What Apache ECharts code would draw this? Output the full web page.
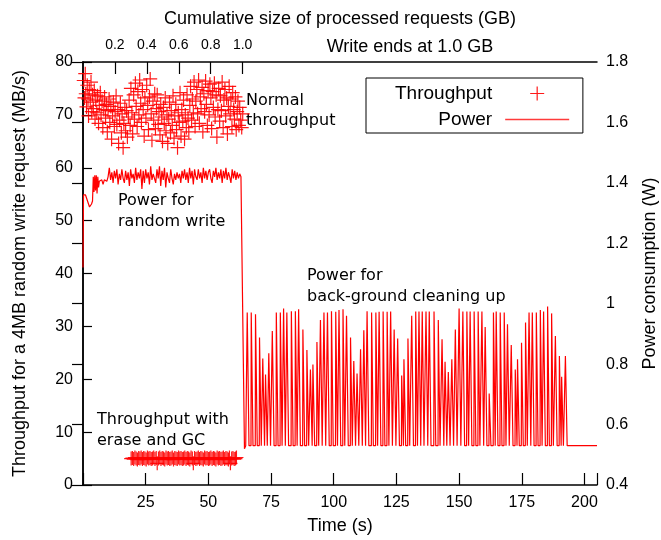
<!DOCTYPE html>
<html>
<head>
<meta charset="utf-8">
<script src="https://cdn.jsdelivr.net/npm/echarts@6/dist/echarts.min.js"></script>
<style>
html,body{margin:0;padding:0;background:#fff;}
#chart{width:661px;height:540px;}
</style>
</head>
<body>
<div id="chart"></div>
<script>
// ---------- data ----------
const xTimeTicks = [25, 50, 75, 100, 125, 150, 175, 200];
const gbTicks = [0.2, 0.4, 0.6, 0.8, 1.0];

// normal throughput (time s, MB/s)
const normalThroughput = [[0.3,76.5],[0.6,73.2],[0.9,77.8],[1.1,74.0],[1.4,71.5],[1.7,75.6],[2.0,73.0],[2.2,69.8],[2.5,74.8],[2.9,72.4],[3.2,76.2],[3.5,70.6],[3.8,73.8],[4.1,71.2],[4.5,74.6],[4.8,69.2],[5.1,72.8],[5.5,70.4],[5.8,73.6],[6.2,68.4],[6.5,71.8],[6.9,74.2],[7.2,70.0],[7.6,72.6],[7.9,67.6],[8.3,71.0],[8.6,73.4],[9.0,69.4],[9.3,72.0],[9.7,66.8],[10.0,70.8],[10.4,73.0],[10.7,68.6],[11.1,71.6],[11.4,65.4],[11.8,69.8],[12.1,72.4],[12.5,67.8],[12.8,70.6],[13.2,73.6],[13.5,68.2],[13.9,71.0],[14.2,64.6],[14.6,69.0],[14.9,72.2],[15.3,66.6],[15.6,70.2],[16.0,63.8],[16.3,68.4],[16.7,71.4],[17.0,67.0],[17.4,70.8],[17.7,65.8],[18.1,69.6],[18.4,72.8],[18.8,68.0],[19.1,75.0],[19.5,70.4],[19.8,66.4],[20.2,73.8],[20.5,69.2],[20.9,76.0],[21.2,71.6],[21.6,67.8],[21.9,74.4],[22.3,70.0],[22.6,76.6],[23.0,72.2],[23.3,68.6],[23.7,74.8],[24.0,71.0],[24.4,66.0],[24.7,73.2],[25.1,69.4],[25.4,75.6],[25.8,71.8],[26.1,67.2],[26.5,73.4],[26.8,76.8],[27.2,70.2],[27.5,65.2],[27.9,72.6],[28.2,69.0],[28.6,74.0],[28.9,67.4],[29.3,71.2],[29.6,73.8],[30.0,68.2],[30.3,70.6],[30.7,66.2],[31.0,72.0],[31.4,69.6],[31.7,65.0],[32.1,71.4],[32.4,68.4],[32.8,73.2],[33.1,67.0],[33.5,70.0],[33.8,64.6],[34.2,69.2],[34.5,72.4],[34.9,66.6],[35.2,70.8],[35.6,68.0],[35.9,73.6],[36.3,65.6],[36.6,69.8],[37.0,72.0],[37.3,67.2],[37.7,63.8],[38.0,70.4],[38.4,68.6],[38.7,74.2],[39.1,66.0],[39.4,71.0],[39.8,68.8],[40.1,72.8],[40.5,65.4],[40.8,70.0],[41.2,67.6],[41.5,73.8],[41.9,69.4],[42.2,66.8],[42.6,71.8],[42.9,75.4],[43.3,69.0],[43.6,73.0],[44.0,70.4],[44.3,76.2],[44.7,67.8],[45.0,72.6],[45.4,74.8],[45.7,70.2],[46.1,76.6],[46.4,68.4],[46.8,73.4],[47.1,71.2],[47.5,75.2],[47.8,66.8],[48.2,74.0],[48.5,70.6],[48.9,76.4],[49.2,72.0],[49.6,68.0],[49.9,74.6],[50.3,70.0],[50.6,75.8],[51.0,73.2],[51.3,67.4],[51.7,74.4],[52.0,71.4],[52.4,76.0],[52.7,69.6],[53.1,73.8],[53.4,65.8],[53.8,71.0],[54.1,75.0],[54.5,68.8],[54.8,73.6],[55.2,70.8],[55.5,76.2],[55.9,67.6],[56.2,72.8],[56.6,74.8],[56.9,69.8],[57.3,73.2],[57.6,66.4],[58.0,71.6],[58.3,75.4],[58.7,70.2],[59.0,73.0],[59.4,67.8],[59.7,74.2],[60.1,71.0],[60.4,69.2],[60.8,73.4],[61.1,67.2],[61.5,70.6],[61.8,72.6],[62.2,68.0],[62.5,71.4],[62.9,69.0],[63.3,67.6],[63.7,70.2]];

// throughput with erase and GC (time s, MB/s)
const gcThroughput = [[19.2,5.0],[19.7,5.1],[20.2,4.9],[20.7,5.2],[21.2,5.0],[21.7,4.8],[22.2,5.1],[22.7,5.0],[23.2,5.2],[23.7,4.9],[24.2,5.1],[24.7,5.0],[25.2,4.8],[25.7,5.2],[26.2,5.0],[26.7,5.1],[27.2,4.9],[27.7,5.0],[28.2,5.2],[28.7,4.9],[29.2,5.1],[29.6,4.1],[30.1,5.0],[30.6,5.2],[31.1,4.9],[31.6,5.1],[32.1,5.0],[32.6,4.8],[33.1,5.2],[33.6,5.0],[34.1,5.1],[34.6,4.9],[35.1,5.0],[35.6,5.2],[36.1,4.8],[36.6,5.1],[37.1,5.0],[37.6,4.9],[38.1,5.2],[38.6,5.0],[39.1,5.1],[39.6,4.9],[40.1,5.0],[40.6,5.2],[41.1,4.9],[41.6,5.1],[42.1,5.0],[42.6,4.8],[43.1,5.2],[43.6,5.0],[44.0,4.1],[44.5,5.1],[45.0,4.9],[45.5,5.0],[46.0,5.2],[46.5,4.9],[47.0,5.1],[47.5,5.0],[48.0,4.8],[48.5,5.2],[49.0,5.0],[49.5,5.1],[50.0,4.9],[50.5,5.0],[51.0,5.2],[51.5,4.9],[52.0,5.1],[52.5,5.0],[53.0,4.8],[53.5,5.2],[54.0,5.0],[54.5,5.1],[55.0,4.9],[55.5,5.0],[56.0,5.2],[56.5,4.9],[57.0,5.1],[57.5,5.0],[58.0,4.8],[58.4,5.2],[58.8,4.1],[59.3,5.0],[59.8,5.1],[60.3,4.9],[60.8,5.0],[61.2,5.2]];

// power during random write (time s, W)
const powerWrite = [[0,1.12],[0.2,1.36],[0.6,1.355],[1.0,1.36],[1.4,1.35],[1.8,1.345],[2.2,1.33],[2.6,1.32],[3.0,1.325],[3.4,1.33],[3.8,1.34],[4.1,1.42],[4.4,1.37],[4.7,1.425],[5.0,1.375],[5.3,1.425],[5.6,1.365],[5.9,1.42],[6.2,1.385],[6.5,1.405],[7.0,1.40],[7.5,1.41],[8.0,1.395],[8.5,1.41],[9.0,1.415],[9.5,1.405],
[10.0,1.42],[10.5,1.45],[11.0,1.41],[11.5,1.435],[12.0,1.40],[12.5,1.44],[13.0,1.415],[13.5,1.445],[14.0,1.395],[14.5,1.43],
[15.0,1.41],[15.5,1.445],[16.0,1.415],[16.5,1.40],[17.0,1.44],[17.5,1.41],[18.0,1.435],[18.5,1.39],[19.0,1.445],[19.5,1.415],
[20.0,1.43],[20.5,1.40],[21.0,1.45],[21.5,1.41],[22.0,1.435],[22.5,1.415],[23.0,1.445],[23.5,1.38],[24.0,1.44],[24.5,1.40],
[25.0,1.445],[25.5,1.415],[26.0,1.435],[26.5,1.395],[27.0,1.455],[27.5,1.41],[28.0,1.43],[28.5,1.435],[29.0,1.40],[29.5,1.445],
[30.0,1.415],[30.5,1.455],[31.0,1.39],[31.5,1.44],[32.0,1.41],[32.5,1.45],[33.0,1.385],[33.5,1.435],[34.0,1.415],[34.5,1.40],
[35.0,1.445],[35.5,1.415],[36.0,1.395],[36.5,1.43],[37.0,1.41],[37.5,1.435],[38.0,1.415],[38.5,1.43],[39.0,1.40],[39.5,1.44],
[40.0,1.415],[40.5,1.445],[41.0,1.41],[41.5,1.435],[42.0,1.40],[42.5,1.45],[43.0,1.415],[43.5,1.44],[44.0,1.395],[44.5,1.445],
[45.0,1.42],[45.5,1.41],[46.0,1.445],[46.5,1.415],[47.0,1.435],[47.5,1.40],[48.0,1.45],[48.5,1.415],[49.0,1.44],[49.5,1.41],
[50.0,1.435],[50.5,1.445],[51.0,1.415],[51.5,1.40],[52.0,1.44],[52.5,1.42],[53.0,1.45],[53.5,1.41],[54.0,1.435],[54.5,1.415],
[55.0,1.445],[55.5,1.40],[56.0,1.44],[56.5,1.415],[57.0,1.45],[57.5,1.41],[58.0,1.435],[58.5,1.42],[59.0,1.40],[59.5,1.445],
[60.0,1.415],[60.5,1.44],[61.0,1.41],[61.5,1.435],[62.0,1.415],[62.5,1.43],[63.0,1.42],[63.4,1.42],[64.4,0.52],[64.9,0.53]];

// background cleaning: spike times (s) and peak power (W), baseline power (W)
const cleanSpikeTimes = [65.5,67.1,68.8,70.4,71.7,72.8,74.1,75.5,77.1,78.7,80.0,81.3,83.1,84.7,86.0,87.7,89.3,90.7,91.7,93.3,94.7,96.1,97.5,99.1,100.8,102.1,103.7,105.1,106.7,108.0,109.3,110.7,112.0,113.3,115.1,116.8,118.1,119.7,121.3,122.7,124.1,125.5,127.1,128.0,129.6,131.1,132.7,134.0,135.3,136.8,138.1,140.0,141.7,143.2,144.4,145.7,147.1,148.5,150.0,151.5,153.1,154.4,156.0,157.6,159.1,160.4,162.0,163.7,164.8,166.4,168.0,169.3,170.8,172.4,173.3,174.9,176.5,177.9,179.2,180.8,182.4,183.7,185.3,186.9,188.4,190.0,190.9,192.4];
const cleanSpikePeaks = [0.971,0.971,0.965,0.888,0.819,0.766,0.836,0.910,0.971,0.971,0.984,0.971,0.975,0.975,0.982,0.915,0.847,0.782,0.799,0.873,0.946,0.971,0.971,0.975,0.973,0.979,0.982,0.960,0.888,0.810,0.769,0.849,0.912,0.975,0.971,0.971,0.973,0.974,0.973,0.974,0.915,0.885,0.762,0.816,0.885,0.960,0.974,0.974,0.974,0.974,0.974,0.974,0.946,0.882,0.808,0.774,0.816,0.915,0.984,0.974,0.974,0.974,0.974,0.974,0.974,0.923,0.703,0.971,0.974,0.971,0.971,0.932,0.863,0.782,0.816,0.871,0.938,0.971,0.971,0.971,0.979,0.974,0.991,0.968,0.893,0.827,0.758,0.827];
const cleanBase = 0.53;
const idleTail = [[193.4,0.53],[205,0.53]];

// ---------- build ----------
const powerData = powerWrite.slice();
cleanSpikeTimes.forEach((t, i) => {
  powerData.push([t - 0.1, cleanBase]);
  powerData.push([t, cleanSpikePeaks[i]]);
  powerData.push([t + 0.7, cleanBase]);
});
idleTail.forEach(p => powerData.push(p));

const throughputData = normalThroughput.concat(gcThroughput);

const AX = 'Liberation Sans';
const AN = 'DejaVu Sans';
const plusPath = 'path://M0,6.4H14V7.6H0ZM6.4,0H7.6V14H6.4Z';

const chart = echarts.init(document.getElementById('chart'), null, {renderer: 'canvas'});
const axisLineStyle = {color: '#000', width: 1.5};

chart.setOption({
  animation: false,
  backgroundColor: '#fff',
  grid: {left: 83, right: 64, top: 62, bottom: 55, containLabel: false, outerBoundsMode: 'none'},
  legend: {
    orient: 'vertical',
    left: 366, top: 78,
    align: 'right',
    itemWidth: 64, itemHeight: 14, itemGap: 7,
    padding: [6, 13, 4, 29],
    borderColor: '#000', borderWidth: 1,
    textStyle: {fontFamily: AX, fontSize: 19, color: '#000', padding: [0, 8, 0, 0]},
    data: [
      {name: 'Throughput', icon: plusPath, itemStyle: {color: '#ff0000'}},
      {name: 'Power', itemStyle: {opacity: 0}, lineStyle: {color: '#ff3b3b', width: 1.4}}
    ]
  },
  xAxis: [{
    type: 'value', position: 'bottom', min: 0, max: 205, interval: 25,
    name: 'Time (s)', nameLocation: 'middle', nameGap: 32,
    nameTextStyle: {fontFamily: AX, fontSize: 18, color: '#000'},
    axisLine: {lineStyle: axisLineStyle},
    axisTick: {inside: true, length: 12, lineStyle: {color: '#000', width: 1.2}},
    axisLabel: {fontFamily: AX, fontSize: 16, color: '#000', margin: 10,
      formatter: v => (xTimeTicks.indexOf(v) >= 0 ? String(v) : '')},
    splitLine: {show: false}
  }, {
    type: 'value', position: 'top', min: 0, max: 3.22,
    name: 'Cumulative size of processed requests (GB)', nameLocation: 'middle', nameGap: 34,
    nameTextStyle: {fontFamily: AX, fontSize: 18, color: '#000'},
    axisLine: {lineStyle: axisLineStyle},
    axisTick: {inside: true, length: 12, customValues: gbTicks, lineStyle: {color: '#000', width: 1.2}},
    axisLabel: {fontFamily: AX, fontSize: 14, color: '#000', margin: 10, customValues: gbTicks,
      formatter: v => v.toFixed(1)},
    splitLine: {show: false}
  }],
  yAxis: [{
    type: 'value', position: 'left', min: 0, max: 80, interval: 10,
    name: 'Throughput for a 4MB random write request (MB/s)', nameLocation: 'middle', nameGap: 54,
    nameTextStyle: {fontFamily: AX, fontSize: 18, color: '#000'},
    axisLine: {show: true, lineStyle: axisLineStyle},
    axisTick: {show: true, inside: true, length: 9, lineStyle: {color: '#000', width: 1.2}},
    axisLabel: {fontFamily: AX, fontSize: 16, color: '#000', margin: 10},
    splitLine: {show: false}
  }, {
    type: 'value', position: 'right', min: 0.4, max: 1.8, interval: 0.2,
    name: 'Power consumption (W)', nameLocation: 'middle', nameGap: 44,
    nameTextStyle: {fontFamily: AX, fontSize: 18, color: '#000'},
    axisLine: {show: true, lineStyle: axisLineStyle},
    axisTick: {show: true, inside: true, length: 11, lineStyle: {color: '#000', width: 1.2}},
    axisLabel: {fontFamily: AX, fontSize: 16, color: '#000', margin: 9},
    splitLine: {show: false}
  }],
  series: [{
    name: 'Power', type: 'line', xAxisIndex: 0, yAxisIndex: 1,
    data: powerData, symbol: 'none', showSymbol: false,
    lineStyle: {color: '#ff0000', width: 1.2},
    itemStyle: {color: '#ff0000'},
    z: 2
  }, {
    name: 'Throughput', type: 'scatter', xAxisIndex: 0, yAxisIndex: 0,
    data: throughputData, symbol: plusPath, symbolSize: 14,
    itemStyle: {color: '#ff0000', opacity: 0.9},
    z: 3
  }],
  graphic: [
    {type: 'text', style: {text: 'Write ends at 1.0 GB', x: 410, y: 47, fontFamily: AX, fontSize: 18, fill: '#000', align: 'center', verticalAlign: 'middle'}},
    {type: 'text', style: {text: 'Normal\nthroughput', x: 246, y: 91, fontFamily: AN, fontSize: 16, lineHeight: 20, fill: '#000', align: 'left', verticalAlign: 'top'}},
    {type: 'text', style: {text: 'Power for\nrandom write', x: 118, y: 191, fontFamily: AN, fontSize: 16, lineHeight: 20.5, fill: '#000', align: 'left', verticalAlign: 'top'}},
    {type: 'text', style: {text: 'Power for\nback-ground cleaning up', x: 307, y: 265, fontFamily: AN, fontSize: 16, lineHeight: 21, fill: '#000', align: 'left', verticalAlign: 'top'}},
    {type: 'text', style: {text: 'Throughput with\nerase and GC', x: 97, y: 409, fontFamily: AN, fontSize: 16, lineHeight: 21, fill: '#000', align: 'left', verticalAlign: 'top'}}
  ]
});
</script>
</body>
</html>
